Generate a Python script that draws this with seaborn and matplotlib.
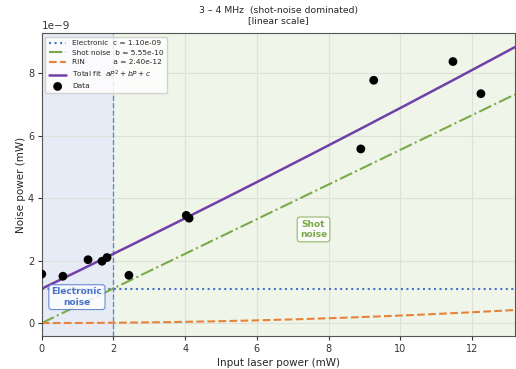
import matplotlib
matplotlib.use("Agg")
import matplotlib.pyplot as plt
import numpy as np
import pandas as pd
import seaborn as sns

sns.set_style("ticks")
plt.rcParams['font.family'] = ['DejaVu Sans']

# measured points (mW, W)
power_mw = [0.0, 0.59, 1.29, 1.68, 1.82, 2.43, 4.03, 4.11, 8.90, 9.26, 11.47, 12.25]
noise_w = [1.57e-9, 1.50e-9, 2.03e-9, 1.98e-9, 2.10e-9, 1.53e-9, 3.45e-9, 3.36e-9,
           5.58e-9, 7.78e-9, 8.38e-9, 7.35e-9]

# fit coefficients
c_el = 1.10e-9
b_shot = 5.55e-10
a_rin = 2.40e-12

x_max = 13.2
split = 2.0

df = pd.DataFrame({'P': power_mw, 'N': noise_w})
pp = np.linspace(0, x_max, 200)
fits = pd.DataFrame({
    'P': pp,
    'el': np.full_like(pp, c_el),
    'shot': b_shot * pp,
    'rin': a_rin * pp ** 2,
})
fits['tot'] = fits['el'] + fits['shot'] + fits['rin']

c_blue = '#4a72c8'
c_green = '#7aaa4a'
c_orange = '#e8823a'
c_purple = '#7040a8'

fig = plt.figure(figsize=(5.16, 3.69), dpi=100)
ax = fig.add_axes([0.081, 0.089, 0.917, 0.822])

ax.axvspan(0, split, color='#e6ebf6', zorder=0)
ax.axvspan(split, x_max, color='#eff5e8', zorder=0)
ax.axvline(split, color=c_blue, ls='--', lw=1.0, alpha=0.8)

sns.lineplot(data=fits, x='P', y='el', ax=ax, color=c_blue, ls=':', lw=1.5,
             label='Electronic  c = 1.10e-09')
sns.lineplot(data=fits, x='P', y='shot', ax=ax, color=c_green, ls='-.', lw=1.5,
             label='Shot noise  b = 5.55e-10')
sns.lineplot(data=fits, x='P', y='rin', ax=ax, color=c_orange, ls='--', lw=1.5,
             label='RIN            a = 2.40e-12')
sns.lineplot(data=fits, x='P', y='tot', ax=ax, color=c_purple, lw=1.8,
             label='Total fit  $aP^2 + bP + c$')
sns.scatterplot(data=df, x='P', y='N', ax=ax, color='black', s=40, zorder=5,
                edgecolor='none', label='Data')

ax.set_xlim(0, x_max)
ax.set_ylim(-0.42e-9, 9.3e-9)
ax.grid(True, color='#dde2d8', lw=0.8)
for s in ax.spines.values():
    s.set_color('#555555')
ax.tick_params(labelsize=7, colors='#333333', length=3, pad=2.5)
ax.yaxis.get_offset_text().set_fontsize(7.5)

ax.set_xlabel('Input laser power (mW)', fontsize=7.5, labelpad=3)
ax.set_ylabel('Noise power (mW)', fontsize=7.5, labelpad=1.5)
ax.set_title('3 – 4 MHz  (shot-noise dominated)\n[linear scale]', fontsize=6.7, pad=7)

ax.text(0.98, 0.83e-9, 'Electronic\nnoise', color=c_blue, fontsize=6.5, fontweight='bold',
        ha='center', va='center',
        bbox=dict(boxstyle='round,pad=0.3', fc='white', ec=c_blue, alpha=0.8, lw=0.8))
ax.text(7.58, 3.0e-9, 'Shot\nnoise', color=c_green, fontsize=6.5, fontweight='bold',
        ha='center', va='center',
        bbox=dict(boxstyle='round,pad=0.3', fc='white', ec=c_green, alpha=0.8, lw=0.8))

ax.legend(loc='upper left', fontsize=5.3, frameon=True, framealpha=0.85,
          handlelength=2.3, borderpad=0.5, labelspacing=0.45)

fig.savefig('out.png', dpi=100)
